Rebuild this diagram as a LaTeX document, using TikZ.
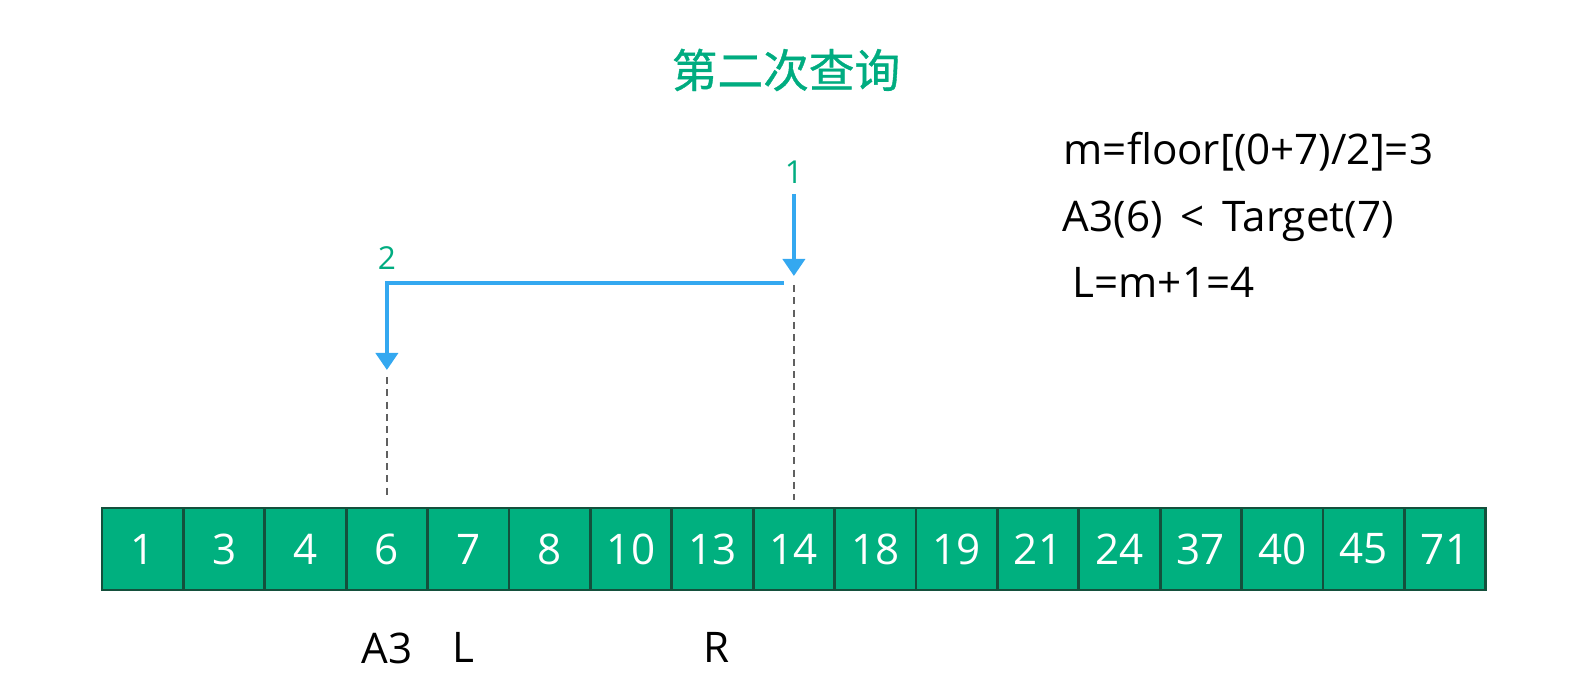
\documentclass[tikz,border=0pt]{standalone}
\usepackage{fontspec}
\setmainfont{Open Sans}
\newfontfamily\cjk{Noto Sans CJK SC}[FakeBold=0.8]
\usetikzlibrary{arrows.meta, positioning, calc}
\definecolor{cellgreen}{RGB}{0,176,127}
\definecolor{celledge}{RGB}{20,80,60}
\definecolor{labelgreen}{RGB}{0,172,128}
\definecolor{stepblue}{RGB}{52,168,240}
\tikzset{
    cell/.style={
        rectangle,
        draw=celledge,
        fill=cellgreen,
        line width=0.8pt,
        minimum width=0.814cm,
        minimum height=0.82cm,
        inner sep=0pt,
        outer sep=0pt,
        text=white,
        font=\fontsize{12}{14}\selectfont
    },
    steparrow/.style={
        -{Triangle[width=0.22cm,length=0.17cm]},
        line width=1.1pt,
        draw=stepblue
    },
    guide/.style={
        gray!75!black,
        line width=0.7pt,
        dash pattern=on 2pt off 1.5pt
    },
    note/.style={font=\fontsize{12}{14}\selectfont, inner sep=0pt},
    stepnum/.style={font=\fontsize{9}{11}\selectfont, text=labelgreen, inner sep=0pt}
}

\begin{document}
\begin{tikzpicture}
            \useasboundingbox (0,0) rectangle (15.96,6.76);

            % Title
            \node[font=\cjk\fontsize{13}{16}\selectfont, text=labelgreen] (title) at (7.86,6.06) {第二次查询};

            % Array
            \node[cell] (a0) at (1.427,1.27) {1};
            \node[cell, right=0pt of a0] (a1) {3};
            \node[cell, right=0pt of a1] (a2) {4};
            \node[cell, right=0pt of a2] (a3) {6};
            \node[cell, right=0pt of a3] (a4) {7};
            \node[cell, right=0pt of a4] (a5) {8};
            \node[cell, right=0pt of a5] (a6) {10};
            \node[cell, right=0pt of a6] (a7) {13};
            \node[cell, right=0pt of a7] (a8) {14};
            \node[cell, right=0pt of a8] (a9) {18};
            \node[cell, right=0pt of a9] (a10) {19};
            \node[cell, right=0pt of a10] (a11) {21};
            \node[cell, right=0pt of a11] (a12) {24};
            \node[cell, right=0pt of a12] (a13) {37};
            \node[cell, right=0pt of a13] (a14) {40};
            \node[cell, right=0pt of a14] (a15) {45};
            \node[cell, right=0pt of a15] (a16) {71};

            % Pointer labels
            \node[note, below=0.42cm of a3] (lblA) {A3};
            \node[note, below=0.42cm of a4, xshift=-0.05cm] (lblL) {L};
            \node[note, below=0.42cm of a7, xshift=0.04cm] (lblR) {R};

            % Guide lines
            \coordinate (g1) at ($(a8.north)+(0,2.23)$);
            \coordinate (g2) at ($(a3.north)+(0,1.31)$);
            \draw[guide] (g1) -- ($(a8.north)+(0,0.08)$);
            \draw[guide] (g2) -- ($(a3.north)+(0,0.08)$);

            % Steps
            \node[stepnum] (s1) at ($(a8.north)+(0,3.36)$) {1};
            \coordinate (t1) at ($(a8.north)+(0,2.32)$);
            \coordinate (k1) at ($(a3.north)+(0,2.25)$);
            \coordinate (k2) at ($(a8.north)+(-0.1,2.25)$);
            \coordinate (t2) at ($(a3.north)+(0,1.38)$);
            \node[stepnum] (s2) at ($(a3.north)+(0,2.5)$) {2};
            \draw[steparrow] ($(s1.south)+(0,-0.1)$) -- (t1);
            \draw[steparrow] (k2) -- (k1) -- (t2);

            % Comparison notes
            \node[note, anchor=base west] (n1) at (10.63,5.11) {m=floor[(0+7)/2]=3};
            \node[note, anchor=base west] (n2) at (10.62,4.44) {A3(6) \,<\, Target(7)};
            \node[note, anchor=base west] (n3) at (10.72,3.78) {L=m+1=4};
\end{tikzpicture}
\end{document}
